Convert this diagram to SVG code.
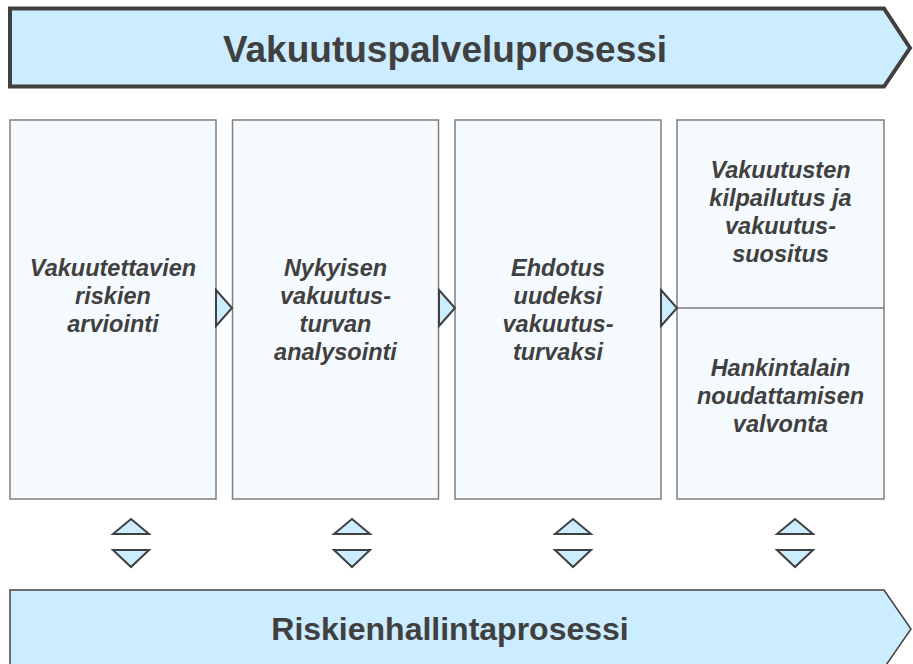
<svg xmlns="http://www.w3.org/2000/svg" width="913" height="664" viewBox="0 0 913 664">
<style>
.banner{fill:#CCECFF;stroke:#404040;stroke-linejoin:miter}
.box{fill:#F5FAFE;stroke:#7F7F7F;stroke-width:1.5}
.tri{fill:#CCECFF;stroke:#404040;stroke-width:2;stroke-linejoin:miter}
.title{font-family:"Liberation Sans",Arial,sans-serif;font-weight:bold;fill:#404040;text-anchor:middle}
.lbl{font-family:"Liberation Sans",Arial,sans-serif;font-weight:bold;font-style:italic;font-size:23.5px;fill:#404040;text-anchor:middle}
</style>
<rect width="913" height="664" fill="#FFFFFF"/>
<g id="top-banner">
<polygon class="banner" stroke-width="4" points="10,8.5 884,8.5 910,48 884,86.5 10,86.5"/>
<text class="title" x="445" y="62" font-size="37">Vakuutuspalveluprosessi</text>
</g>
<g id="box1">
<rect class="box" x="10" y="120" width="206" height="379"/>
<text class="lbl" x="113" y="276">Vakuutettavien</text>
<text class="lbl" x="113" y="304">riskien</text>
<text class="lbl" x="113" y="332">arviointi</text>
</g>
<g id="box2">
<rect class="box" x="232.5" y="120" width="206" height="379"/>
<text class="lbl" x="335.5" y="276">Nykyisen</text>
<text class="lbl" x="335.5" y="304">vakuutus-</text>
<text class="lbl" x="335.5" y="332">turvan</text>
<text class="lbl" x="335.5" y="360">analysointi</text>
</g>
<g id="box3">
<rect class="box" x="455" y="120" width="206" height="379"/>
<text class="lbl" x="558" y="276">Ehdotus</text>
<text class="lbl" x="558" y="304">uudeksi</text>
<text class="lbl" x="558" y="332">vakuutus-</text>
<text class="lbl" x="558" y="360">turvaksi</text>
</g>
<g id="box4">
<rect class="box" x="677" y="120" width="207" height="379"/>
<line x1="677" y1="308" x2="884" y2="308" stroke="#7F7F7F" stroke-width="1.5"/>
<text class="lbl" x="780.5" y="178">Vakuutusten</text>
<text class="lbl" x="780.5" y="206">kilpailutus ja</text>
<text class="lbl" x="780.5" y="234">vakuutus-</text>
<text class="lbl" x="780.5" y="262">suositus</text>
<text class="lbl" x="780.5" y="376">Hankintalain</text>
<text class="lbl" x="780.5" y="404">noudattamisen</text>
<text class="lbl" x="780.5" y="432">valvonta</text>
</g>
<g id="bottom-banner">
<polygon class="banner" stroke-width="1.5" points="10,590 884,590 911,629 884,668 10,668"/>
<text class="title" x="450" y="640" font-size="32">Riskienhallintaprosessi</text>
</g>
<g id="connectors">
<polygon class="tri" points="216,290 232,308 216,326"/>
<polygon class="tri" points="439,290 455,308 439,326"/>
<polygon class="tri" points="661,290 677,308 661,326"/>
<polygon class="tri" points="113,534 131,519 149,534"/>
<polygon class="tri" points="113,550 131,567 149,550"/>
<polygon class="tri" points="334,534 352,519 370,534"/>
<polygon class="tri" points="334,550 352,567 370,550"/>
<polygon class="tri" points="555,534 573,519 591,534"/>
<polygon class="tri" points="555,550 573,567 591,550"/>
<polygon class="tri" points="777,534 795,519 813,534"/>
<polygon class="tri" points="777,550 795,567 813,550"/>
</g>
</svg>
